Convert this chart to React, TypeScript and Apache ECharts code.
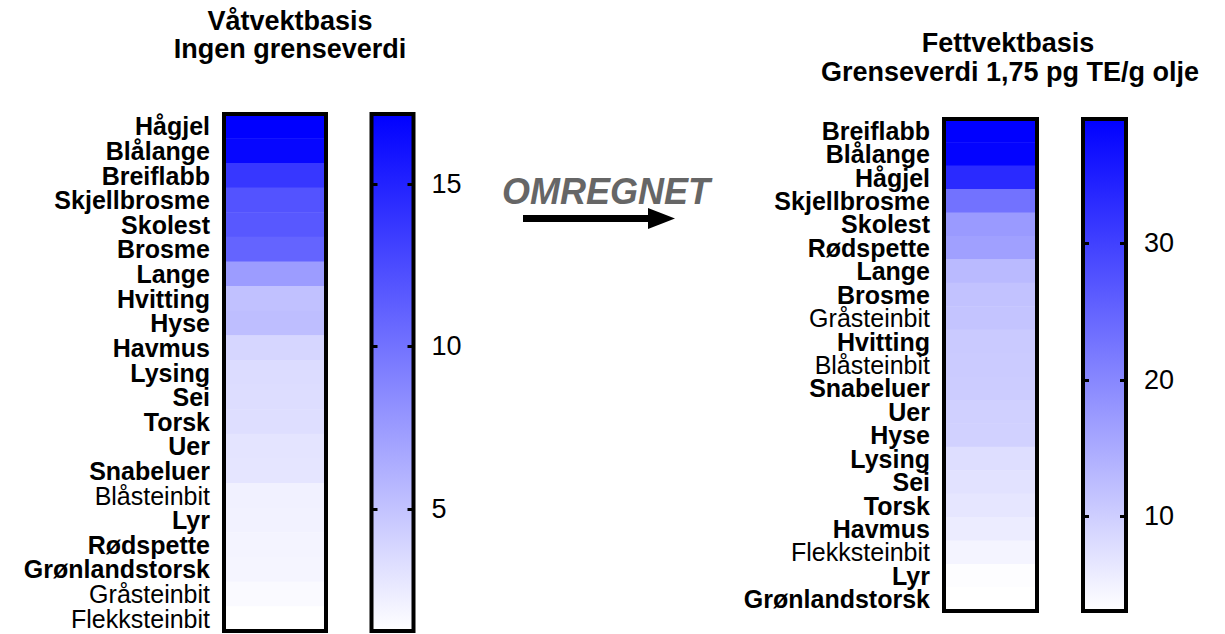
import React, { useEffect, useRef } from "react";
import * as echarts from "echarts";

const leftSpecies = ["Hågjel", "Blålange", "Breiflabb", "Skjellbrosme", "Skolest", "Brosme", "Lange", "Hvitting", "Hyse", "Havmus", "Lysing", "Sei", "Torsk", "Uer", "Snabeluer", "Blåsteinbit", "Lyr", "Rødspette", "Grønlandstorsk", "Gråsteinbit", "Flekksteinbit"];
const leftValues = [17.15, 16.8, 13.7, 12.0, 11.66, 10.9, 7.42, 5.1, 5.3, 3.81, 3.43, 3.37, 3.3, 2.93, 2.87, 2.12, 2.06, 1.94, 1.87, 1.56, 1.25];

const rightSpecies = ["Breiflabb", "Blålange", "Hågjel", "Skjellbrosme", "Skolest", "Rødspette", "Lange", "Brosme", "Gråsteinbit", "Hvitting", "Blåsteinbit", "Snabeluer", "Uer", "Hyse", "Lysing", "Sei", "Torsk", "Havmus", "Flekksteinbit", "Lyr", "Grønlandstorsk"];
const rightValues = [39.1, 38.7, 33.2, 23.0, 17.35, 16.5, 12.8, 11.7, 11.4, 10.6, 10.4, 10.3, 9.7, 9.6, 7.74, 7.2, 6.6, 5.77, 4.63, 3.36, 3.08];

const lightLabels = ["Blåsteinbit", "Gråsteinbit", "Flekksteinbit"];
const leftTicks = [5, 10, 15];
const rightTicks = [10, 20, 30];

const leftTitle = ["Våtvektbasis", "Ingen grenseverdi"];
const rightTitle = ["Fettvektbasis", "Grenseverdi 1,75 pg TE/g olje"];
const arrowText = "OMREGNET";

const FONT = "'Liberation Sans', Arial, Helvetica, sans-serif";
const LOW = "#FFFFFF";
const HIGH = "#0000FF";

export default function App() {
  const ref = useRef<HTMLDivElement>(null);

  useEffect(() => {
    if (!ref.current) return;
    const chart = echarts.init(ref.current, null, { renderer: "svg" });

    const leftMin = Math.min(...leftValues);
    const leftMax = Math.max(...leftValues);
    const rightMin = Math.min(...rightValues);
    const rightMax = Math.max(...rightValues);

    const labelFmt = (v: string) => (lightLabels.includes(v) ? `{n|${v}}` : `{b|${v}}`);
    const rich = {
      b: { fontFamily: FONT, fontWeight: "bold", fontSize: 25, color: "#000", lineHeight: 21 },
      n: { fontFamily: FONT, fontWeight: "normal", fontSize: 25, color: "#000", lineHeight: 21 },
    };

    const gradient = () =>
      new echarts.graphic.LinearGradient(0, 0, 0, 1, [
        { offset: 0, color: HIGH },
        { offset: 1, color: LOW },
      ]);

    const catY = (gridIndex: number, data: string[]) => ({
      type: "category",
      gridIndex,
      data,
      inverse: true,
      axisLine: { show: false },
      axisTick: { show: false },
      splitLine: { show: false },
      axisLabel: {
        formatter: labelFmt,
        rich,
        margin: 14,
        interval: 0,
        showMinLabel: true,
        showMaxLabel: true,
        hideOverlap: false,
      },
    });

    const barY = (gridIndex: number, min: number, max: number, ticks: number[], side: "left" | "right") => ({
      type: "value",
      gridIndex,
      min,
      max,
      position: side,
      z: 10,
      axisLine: { show: false },
      splitLine: { show: false },
      axisTick: {
        show: true,
        inside: true,
        length: 6,
        lineStyle: { width: 3, color: "#000" },
        customValues: ticks,
      },
      axisLabel: side === "right"
        ? { show: true, customValues: ticks, fontFamily: FONT, fontSize: 27, color: "#000", margin: 18 }
        : { show: false },
    });

    const hiddenX = (gridIndex: number) => ({
      type: "category",
      gridIndex,
      data: [""],
      show: false,
    });

    const option: any = {
      animation: false,
      backgroundColor: "#fff",
      grid: [
        { left: 224, top: 114, width: 102, height: 517, show: true, borderColor: "#000", borderWidth: 4, backgroundColor: "transparent", z: 5 },
        { left: 371.5, top: 114, width: 42, height: 517, show: true, borderColor: "#000", borderWidth: 4, backgroundColor: gradient(), z: 0 },
        { left: 944, top: 119, width: 93, height: 492, show: true, borderColor: "#000", borderWidth: 4, backgroundColor: "transparent", z: 5 },
        { left: 1083, top: 119, width: 43, height: 492, show: true, borderColor: "#000", borderWidth: 4, backgroundColor: gradient(), z: 0 },
      ],
      xAxis: [hiddenX(0), hiddenX(1), hiddenX(2), hiddenX(3)],
      yAxis: [
        catY(0, leftSpecies),
        barY(1, leftMin, leftMax, leftTicks, "left"),
        barY(1, leftMin, leftMax, leftTicks, "right"),
        catY(2, rightSpecies),
        barY(3, rightMin, rightMax, rightTicks, "left"),
        barY(3, rightMin, rightMax, rightTicks, "right"),
      ],
      visualMap: [
        { show: false, seriesIndex: 0, dimension: 2, min: leftMin, max: leftMax, inRange: { color: [LOW, HIGH] } },
        { show: false, seriesIndex: 1, dimension: 2, min: rightMin, max: rightMax, inRange: { color: [LOW, HIGH] } },
      ],
      series: [
        {
          type: "heatmap",
          xAxisIndex: 0,
          yAxisIndex: 0,
          data: leftValues.map((v, i) => [0, i, v]),
          itemStyle: { borderWidth: 0 },
          emphasis: { disabled: true },
        },
        {
          type: "heatmap",
          xAxisIndex: 2,
          yAxisIndex: 3,
          data: rightValues.map((v, i) => [0, i, v]),
          itemStyle: { borderWidth: 0 },
          emphasis: { disabled: true },
        },
      ],
      graphic: [
        { type: "text", x: 290, y: 21, style: { text: leftTitle[0], font: `bold 27px ${FONT}`, fill: "#000", textAlign: "center", textVerticalAlign: "middle" } },
        { type: "text", x: 290, y: 49, style: { text: leftTitle[1], font: `bold 27px ${FONT}`, fill: "#000", textAlign: "center", textVerticalAlign: "middle" } },
        { type: "text", x: 1008, y: 43, style: { text: rightTitle[0], font: `bold 27px ${FONT}`, fill: "#000", textAlign: "center", textVerticalAlign: "middle" } },
        { type: "text", x: 1010, y: 72, style: { text: rightTitle[1], font: `bold 27px ${FONT}`, fill: "#000", textAlign: "center", textVerticalAlign: "middle" } },
        { type: "text", x: 606, y: 191, style: { text: arrowText, font: `italic bold 36px ${FONT}`, fill: "#666666", textAlign: "center", textVerticalAlign: "middle" } },
        { type: "rect", shape: { x: 523, y: 215, width: 128, height: 7 }, style: { fill: "#000" } },
        { type: "polygon", shape: { points: [[648, 208], [675, 218.5], [648, 229]] }, style: { fill: "#000" } },
      ],
    };

    chart.setOption(option);
    return () => chart.dispose();
  }, []);

  return <div ref={ref} style={{ position: "absolute", left: 0, top: 0, width: 1225, height: 634 }} />;
}
